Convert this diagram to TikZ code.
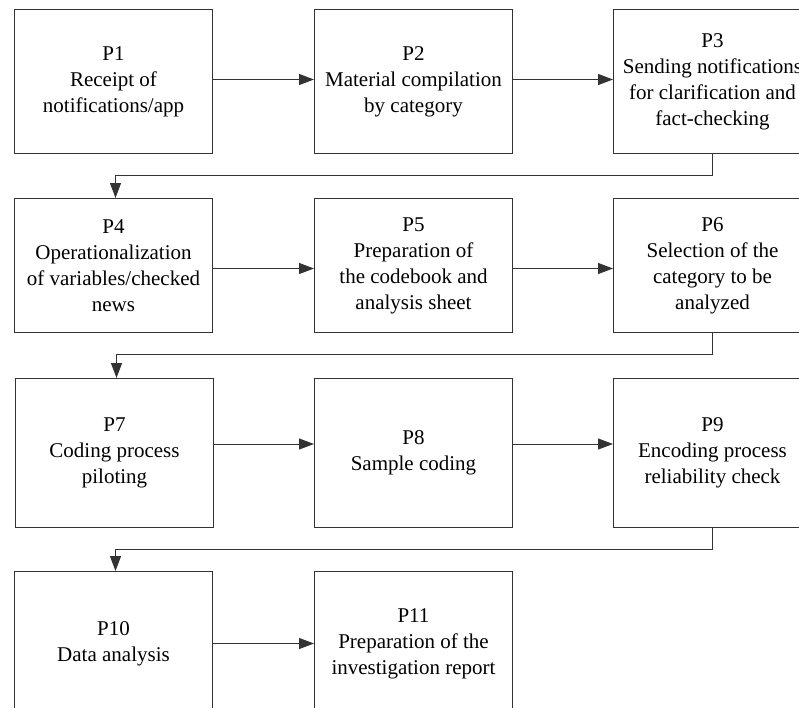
\documentclass[tikz,border=0pt]{standalone}
\usepackage{fontspec}
\setmainfont{Liberation Serif}
\usetikzlibrary{arrows.meta}
\begin{document}
\begin{tikzpicture}[x=1pt,y=-1pt,
  procbox/.style={draw=black!80, line width=1pt, minimum width=198pt, anchor=north west,
    align=center, font=\fontsize{21}{26}\selectfont, inner sep=0pt, text=black},
  flow/.style={draw=black!80, line width=1pt, -{Triangle[length=15pt,width=11pt]}}]
\clip (0,0) rectangle (799,707);
% row 1
\node[procbox, minimum height=144pt] (b1) at (14,9) {P1\\Receipt of\\notifications/app};
\node[procbox, minimum height=144pt] (b2) at (314,9) {P2\\Material compilation\\by category};
\node[procbox, minimum height=144pt] (b3) at (613,9) {P3\\Sending notifications\\for clarification and\\fact-checking};
% row 2
\node[procbox, minimum height=134pt] (b4) at (14,198) {P4\\Operationalization\\of variables/checked\\news};
\node[procbox, minimum height=134pt] (b5) at (314,198) {P5\\Preparation of\\the codebook and\\analysis sheet};
\node[procbox, minimum height=134pt] (b6) at (613,198) {P6\\Selection of the\\category to be\\analyzed};
% row 3
\node[procbox, minimum height=149pt] (b7) at (15,378) {P7\\Coding process\\piloting};
\node[procbox, minimum height=149pt] (b8) at (314,378) {P8\\Sample coding};
\node[procbox, minimum height=149pt] (b9) at (613,378) {P9\\Encoding process\\reliability check};
% row 4
\node[procbox, minimum height=144pt] (b10) at (14,571) {P10\\Data analysis};
\node[procbox, minimum height=144pt] (b11) at (314,571) {P11\\Preparation of the\\investigation report};
% horizontal connectors
\draw[flow] ([yshift=2pt]b1.east) -- ([yshift=2pt]b2.west);
\draw[flow] ([yshift=2pt]b2.east) -- ([yshift=2pt]b3.west);
\draw[flow] ([yshift=-3pt]b4.east) -- ([yshift=-3pt]b5.west);
\draw[flow] ([yshift=-3pt]b5.east) -- ([yshift=-3pt]b6.west);
\draw[flow] ([yshift=9pt]b7.east) -- ([yshift=9pt]b8.west);
\draw[flow] ([yshift=9pt]b8.east) -- ([yshift=9pt]b9.west);
\draw[flow] (b10.east) -- (b11.west);
% return connectors
\draw[flow] (b3.south) -- ++(0,21) -| ([xshift=2pt]b4.north);
\draw[flow] (b6.south) -- ++(0,21) -| ([xshift=2pt]b7.north);
\draw[flow] (b9.south) -- ++(0,21) -| ([xshift=2pt]b10.north);
\end{tikzpicture}
\end{document}
